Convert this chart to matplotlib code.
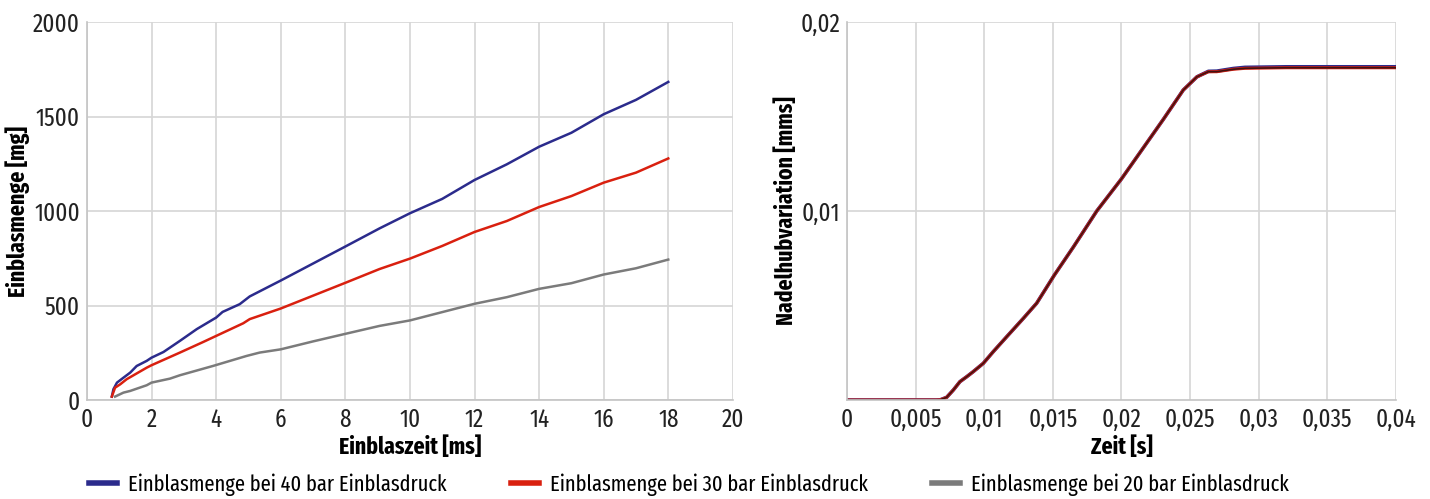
import os
import numpy as np
import matplotlib
matplotlib.use('Agg')
import matplotlib.pyplot as plt
from matplotlib import font_manager as fm

# the original uses a condensed DIN-like face; look for the narrowest installed sans file
font_files = sorted(set(f.fname for f in fm.fontManager.ttflist))
skip = ('Italic', 'Light', 'Medium', 'Black', 'Thin', 'Semi', 'Mono', 'Serif', 'ExtraBold')


def find_font(tag, bold):
    for fn in font_files:
        base = os.path.basename(fn)
        if tag not in base or 'Ultra' in base and tag != 'Ultra':
            continue
        rest = base.replace(tag, '')
        if any(s in rest for s in skip):
            continue
        if bold != ('Bold' in rest):
            continue
        return fn
    return None


reg_file = bold_file = None
for tag in ('ExtraCondensed', 'Condensed', 'Narrow'):
    reg_file, bold_file = find_font(tag, False), find_font(tag, True)
    if reg_file and bold_file:
        break

if reg_file and bold_file:
    fp_tick = fm.FontProperties(fname=reg_file, size=18)
    fp_leg = fm.FontProperties(fname=reg_file, size=16)
    fpb = fm.FontProperties(fname=bold_file, size=17)
else:
    fp_tick = fm.FontProperties(family='DejaVu Sans', size=14)
    fp_leg = fm.FontProperties(family='DejaVu Sans', size=12)
    fpb = fm.FontProperties(family='DejaVu Sans', weight='bold', size=14)

# left chart: Einblasmenge over Einblaszeit
t_40 = [0.77, 0.82, 0.93, 1.13, 1.34, 1.54, 1.85, 2.0, 2.37, 2.88, 3.4, 4.0, 4.2, 4.73, 5.04,
        6, 7, 8, 9.06, 10, 11, 12, 13, 14, 15, 16, 17, 18]
m_40 = [18, 57, 92, 118, 145, 180, 207, 224, 254, 313, 375, 436, 466, 507, 548,
        632, 722, 812, 908, 988, 1064, 1164, 1247, 1340, 1414, 1512, 1588, 1683]
t_30 = [0.77, 0.87, 1.03, 1.23, 1.85, 2.0, 2.88, 3.6, 4.0, 4.84, 5.04, 6, 7, 8, 9.06,
        10, 11, 12, 13, 14, 15, 16, 17, 18]
m_30 = [18, 65, 83, 110, 171, 184, 251, 307, 339, 406, 428, 484, 552, 620, 693,
        748, 815, 889, 947, 1021, 1079, 1150, 1203, 1278]
t_20 = [0.87, 1.13, 1.34, 1.85, 2.0, 2.57, 2.88, 3.9, 4.94, 5.35, 6, 7, 8, 9.06,
        10, 11, 12, 13, 14, 15, 16, 17, 18]
m_20 = [18, 39, 48, 78, 92, 113, 131, 180, 233, 251, 268, 310, 350, 392,
        421, 465, 509, 544, 588, 618, 664, 697, 743]

# right chart: Nadelhubvariation over Zeit
zeit = [0, 0.0065, 0.0068, 0.00726, 0.00775, 0.00823, 0.00872, 0.0092, 0.00993, 0.01066,
        0.01164, 0.01285, 0.01382, 0.0151, 0.0165, 0.0182, 0.02, 0.02305, 0.0245, 0.0255,
        0.02633, 0.02694, 0.02815, 0.029, 0.032, 0.036, 0.04]
hub = [0, 0, 0.00001, 0.00014, 0.00053, 0.00097, 0.00123, 0.0015, 0.00194, 0.00256,
       0.00335, 0.00432, 0.00512, 0.0066, 0.0081, 0.0100, 0.0117, 0.01485, 0.0164, 0.0171,
       0.01737, 0.01737, 0.0175, 0.01755, 0.01758, 0.01758, 0.01758]
hub_40 = [0, 0, 0.00001, 0.00014, 0.00053, 0.00097, 0.00123, 0.0015, 0.00194, 0.00256,
          0.00335, 0.00432, 0.00512, 0.0066, 0.0081, 0.0100, 0.0117, 0.01485, 0.0164, 0.0171,
          0.01739, 0.0174, 0.01754, 0.0176, 0.01763, 0.01763, 0.01763]

labels = ['Einblasmenge bei 40 bar Einblasdruck',
          'Einblasmenge bei 30 bar Einblasdruck',
          'Einblasmenge bei 20 bar Einblasdruck']
colors = ['#2b2b8c', '#d9200f', '#7b7b7b']

grid_c = '#d6d6d6'
fig = plt.figure(figsize=(14.3, 4.99), dpi=100)
ax1 = fig.add_axes([0.0608, 0.1984, 0.4517, 0.7575])
ax2 = fig.add_axes([0.5923, 0.1984, 0.3839, 0.7575])

l1, = ax1.plot(t_40, m_40, color=colors[0], lw=1.8)
l2, = ax1.plot(t_30, m_30, color=colors[1], lw=1.8)
l3, = ax1.plot(t_20, m_20, color=colors[2], lw=1.8)
ax1.set_xlim(0, 20)
ax1.set_ylim(0, 2000)
ax1.set_xticks(range(0, 21, 2))
ax1.set_yticks(range(0, 2001, 500))
ax1.set_xlabel('Einblaszeit [ms]', fontproperties=fpb, labelpad=3)
ax1.set_ylabel('Einblasmenge [mg]', fontproperties=fpb, labelpad=2)

ax2.plot(zeit, hub_40, color=colors[0], lw=2.6)
ax2.plot(zeit, hub, color=colors[1], lw=2.2)
ax2.plot(zeit, hub, color='#3d1212', lw=1.2)
ax2.set_xlim(0, 0.04)
ax2.set_ylim(0, 0.02)
ax2.set_xticks([0, 0.005, 0.01, 0.015, 0.02, 0.025, 0.03, 0.035, 0.04])
ax2.set_xticklabels(['0', '0,005', '0,01', '0,015', '0,02', '0,025', '0,03', '0,035', '0,04'])
ax2.set_yticks([0.01, 0.02])
ax2.set_yticklabels(['0,01', '0,02'])
ax2.set_xlabel('Zeit [s]', fontproperties=fpb, labelpad=3)
ax2.set_ylabel('Nadelhubvariation [mms]', fontproperties=fpb, labelpad=2)

for ax in (ax1, ax2):
    ax.grid(True, color=grid_c, lw=1.2)
    ax.set_axisbelow(True)
    ax.tick_params(length=0, pad=5, labelcolor='#222222')
    for lbl in ax.get_xticklabels() + ax.get_yticklabels():
        lbl.set_fontproperties(fp_tick)
    ax.spines['top'].set_visible(False)
    ax.spines['right'].set_visible(False)
    ax.spines['left'].set_color('#c4c4c4')
    ax.spines['bottom'].set_color('#c4c4c4')
    ax.spines['left'].set_linewidth(1.2)
    ax.spines['bottom'].set_linewidth(1.2)

leg = fig.legend([l1, l2, l3], labels, loc='lower left', ncol=3,
                 bbox_to_anchor=(0.048, -0.034), frameon=False, prop=fp_leg,
                 handlelength=1.26, handletextpad=0.5, columnspacing=2.9)
for h in leg.legend_handles:
    h.set_linewidth(4)

fig.savefig('out.png', dpi=100)
